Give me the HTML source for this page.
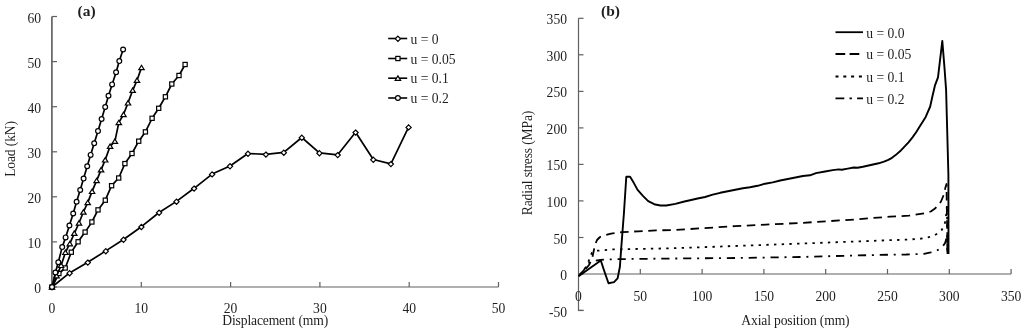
<!DOCTYPE html>
<html><head><meta charset="utf-8"><style>
html,body{margin:0;padding:0;background:#fff;width:1024px;height:331px;overflow:hidden}
svg{display:block;filter:grayscale(1)}
text{font-family:"Liberation Serif",serif}
</style></head><body>
<svg width="1024" height="331" viewBox="0 0 1024 331">
<rect width="1024" height="331" fill="#fff"/>
<g stroke="#606060" stroke-width="1.2" fill="none"><path d="M51.9,16.5V287.0" stroke-width="1.6" stroke="#5a5a5a"/><path d="M51,287.0H498.5"/><path d="M52.0,287.0h5"/><path d="M52.0,241.9h5"/><path d="M52.0,196.8h5"/><path d="M52.0,151.8h5"/><path d="M52.0,106.7h5"/><path d="M52.0,61.6h5"/><path d="M52.0,16.5h5"/><path d="M141.3,287.0v-5"/><path d="M230.6,287.0v-5"/><path d="M319.9,287.0v-5"/><path d="M409.2,287.0v-5"/><path d="M498.5,287.0v-5"/></g><g font-size="13.6" fill="#1e1e1e"><text x="41" y="293.2" text-anchor="end" font-size="13.6">0</text><text x="41" y="248.1" text-anchor="end" font-size="13.6">10</text><text x="41" y="203.0" text-anchor="end" font-size="13.6">20</text><text x="41" y="158.0" text-anchor="end" font-size="13.6">30</text><text x="41" y="112.9" text-anchor="end" font-size="13.6">40</text><text x="41" y="67.8" text-anchor="end" font-size="13.6">50</text><text x="41" y="22.7" text-anchor="end" font-size="13.6">60</text><text x="52.0" y="313" text-anchor="middle" font-size="13.6">0</text><text x="141.3" y="313" text-anchor="middle" font-size="13.6">10</text><text x="230.6" y="313" text-anchor="middle" font-size="13.6">20</text><text x="319.9" y="313" text-anchor="middle" font-size="13.6">30</text><text x="409.2" y="313" text-anchor="middle" font-size="13.6">40</text><text x="498.5" y="313" text-anchor="middle" font-size="13.6">50</text><text x="275.2" y="324.8" text-anchor="middle" letter-spacing="-0.15">Displacement (mm)</text><text transform="translate(14.5,149) rotate(-90)" text-anchor="middle" letter-spacing="-0.15">Load (kN)</text><text x="77.5" y="16" font-weight="bold" font-size="15.5">(a)</text></g><polyline points="52.0,287.0 69.6,272.9 87.8,262.3 105.8,250.9 123.5,239.5 141.4,226.7 159.1,212.5 176.5,201.4 194.1,188.3 212.1,174.1 230.0,166.0 248.0,153.5 265.9,154.3 283.8,152.4 301.8,137.5 319.4,152.9 337.7,154.8 355.6,132.3 373.3,159.5 390.9,163.8 408.6,127.1" fill="none" stroke="#000" stroke-width="1.7" stroke-linejoin="round"/><g fill="#fff" stroke="#000" stroke-width="1.2"><path d="M52.0,284.7L54.6,287.3L52.0,289.9L49.4,287.3Z"/><path d="M69.6,270.6L72.2,273.2L69.6,275.8L67.0,273.2Z"/><path d="M87.8,260.0L90.4,262.6L87.8,265.2L85.2,262.6Z"/><path d="M105.8,248.6L108.4,251.2L105.8,253.8L103.2,251.2Z"/><path d="M123.5,237.2L126.1,239.8L123.5,242.4L120.9,239.8Z"/><path d="M141.4,224.4L144.0,227.0L141.4,229.6L138.8,227.0Z"/><path d="M159.1,210.2L161.7,212.8L159.1,215.4L156.5,212.8Z"/><path d="M176.5,199.1L179.1,201.7L176.5,204.3L173.9,201.7Z"/><path d="M194.1,186.0L196.7,188.6L194.1,191.2L191.5,188.6Z"/><path d="M212.1,171.8L214.7,174.4L212.1,177.0L209.5,174.4Z"/><path d="M230.0,163.7L232.6,166.3L230.0,168.9L227.4,166.3Z"/><path d="M248.0,151.2L250.6,153.8L248.0,156.4L245.4,153.8Z"/><path d="M265.9,152.0L268.5,154.6L265.9,157.2L263.3,154.6Z"/><path d="M283.8,150.1L286.4,152.7L283.8,155.3L281.2,152.7Z"/><path d="M301.8,135.2L304.4,137.8L301.8,140.4L299.2,137.8Z"/><path d="M319.4,150.6L322.0,153.2L319.4,155.8L316.8,153.2Z"/><path d="M337.7,152.5L340.3,155.1L337.7,157.7L335.1,155.1Z"/><path d="M355.6,130.0L358.2,132.6L355.6,135.2L353.0,132.6Z"/><path d="M373.3,157.2L375.9,159.8L373.3,162.4L370.7,159.8Z"/><path d="M390.9,161.5L393.5,164.1L390.9,166.7L388.3,164.1Z"/><path d="M408.6,124.8L411.2,127.4L408.6,130.0L406.0,127.4Z"/></g><polyline points="52.0,287.0 58.9,273.5 65.2,268.0 71.3,252.2 78.1,241.8 85.1,232.1 91.9,222.0 98.0,209.9 105.3,200.2 111.6,185.7 118.7,178.0 124.9,163.6 132.0,153.5 138.7,141.2 145.4,131.9 152.1,118.3 158.7,108.3 165.4,96.8 171.8,84.0 179.0,75.5 185.1,64.5" fill="none" stroke="#000" stroke-width="1.7" stroke-linejoin="round"/><g fill="#fff" stroke="#000" stroke-width="1.2"><rect x="49.9" y="284.9" width="4.2" height="4.2"/><rect x="56.8" y="271.4" width="4.2" height="4.2"/><rect x="63.1" y="265.9" width="4.2" height="4.2"/><rect x="69.2" y="250.1" width="4.2" height="4.2"/><rect x="76.0" y="239.7" width="4.2" height="4.2"/><rect x="83.0" y="230.0" width="4.2" height="4.2"/><rect x="89.8" y="219.9" width="4.2" height="4.2"/><rect x="95.9" y="207.8" width="4.2" height="4.2"/><rect x="103.2" y="198.1" width="4.2" height="4.2"/><rect x="109.5" y="183.6" width="4.2" height="4.2"/><rect x="116.6" y="175.9" width="4.2" height="4.2"/><rect x="122.8" y="161.5" width="4.2" height="4.2"/><rect x="129.9" y="151.4" width="4.2" height="4.2"/><rect x="136.6" y="139.1" width="4.2" height="4.2"/><rect x="143.3" y="129.8" width="4.2" height="4.2"/><rect x="150.0" y="116.2" width="4.2" height="4.2"/><rect x="156.6" y="106.2" width="4.2" height="4.2"/><rect x="163.3" y="94.7" width="4.2" height="4.2"/><rect x="169.7" y="81.9" width="4.2" height="4.2"/><rect x="176.9" y="73.4" width="4.2" height="4.2"/><rect x="183.0" y="62.4" width="4.2" height="4.2"/></g><polyline points="52.0,287.0 56.6,275.8 61.1,265.4 65.4,252.4 69.8,243.7 74.3,233.3 79.0,223.0 83.4,212.0 87.7,202.6 92.1,191.4 96.6,180.6 101.1,169.8 105.2,159.9 110.1,146.3 114.9,141.3 118.8,122.6 123.5,114.5 128.0,102.9 132.7,90.3 137.0,80.3 141.5,67.6" fill="none" stroke="#000" stroke-width="1.7" stroke-linejoin="round"/><g fill="#fff" stroke="#000" stroke-width="1.2"><path d="M52.0,284.7L54.7,289.1L49.3,289.1Z"/><path d="M56.6,273.5L59.3,277.9L53.9,277.9Z"/><path d="M61.1,263.1L63.8,267.5L58.4,267.5Z"/><path d="M65.4,250.1L68.1,254.5L62.7,254.5Z"/><path d="M69.8,241.4L72.5,245.8L67.1,245.8Z"/><path d="M74.3,231.0L77.0,235.4L71.6,235.4Z"/><path d="M79.0,220.7L81.7,225.1L76.3,225.1Z"/><path d="M83.4,209.7L86.1,214.1L80.7,214.1Z"/><path d="M87.7,200.3L90.4,204.7L85.0,204.7Z"/><path d="M92.1,189.1L94.8,193.5L89.4,193.5Z"/><path d="M96.6,178.3L99.3,182.7L93.9,182.7Z"/><path d="M101.1,167.5L103.8,171.9L98.4,171.9Z"/><path d="M105.2,157.6L107.9,162.0L102.5,162.0Z"/><path d="M110.1,144.0L112.8,148.4L107.4,148.4Z"/><path d="M114.9,139.0L117.6,143.4L112.2,143.4Z"/><path d="M118.8,120.3L121.5,124.7L116.1,124.7Z"/><path d="M123.5,112.2L126.2,116.6L120.8,116.6Z"/><path d="M128.0,100.6L130.7,105.0L125.3,105.0Z"/><path d="M132.7,88.0L135.4,92.4L130.0,92.4Z"/><path d="M137.0,78.0L139.7,82.4L134.3,82.4Z"/><path d="M141.5,65.3L144.2,69.7L138.8,69.7Z"/></g><polyline points="52.0,287.0 55.4,272.5 58.3,262.2 62.2,247.1 65.6,237.4 69.4,225.5 73.2,213.5 76.6,201.8 80.2,190.0 83.6,178.6 87.2,166.2 90.6,154.9 94.2,143.3 98.0,131.1 101.6,119.0 105.2,107.0 108.5,95.8 112.1,84.4 116.1,72.3 119.3,61.1 123.1,49.5" fill="none" stroke="#000" stroke-width="1.7" stroke-linejoin="round"/><g fill="#fff" stroke="#000" stroke-width="1.2"><circle cx="52.0" cy="287.0" r="2.4"/><circle cx="55.4" cy="272.5" r="2.4"/><circle cx="58.3" cy="262.2" r="2.4"/><circle cx="62.2" cy="247.1" r="2.4"/><circle cx="65.6" cy="237.4" r="2.4"/><circle cx="69.4" cy="225.5" r="2.4"/><circle cx="73.2" cy="213.5" r="2.4"/><circle cx="76.6" cy="201.8" r="2.4"/><circle cx="80.2" cy="190.0" r="2.4"/><circle cx="83.6" cy="178.6" r="2.4"/><circle cx="87.2" cy="166.2" r="2.4"/><circle cx="90.6" cy="154.9" r="2.4"/><circle cx="94.2" cy="143.3" r="2.4"/><circle cx="98.0" cy="131.1" r="2.4"/><circle cx="101.6" cy="119.0" r="2.4"/><circle cx="105.2" cy="107.0" r="2.4"/><circle cx="108.5" cy="95.8" r="2.4"/><circle cx="112.1" cy="84.4" r="2.4"/><circle cx="116.1" cy="72.3" r="2.4"/><circle cx="119.3" cy="61.1" r="2.4"/><circle cx="123.1" cy="49.5" r="2.4"/></g><path d="M388.2,38.5H407.2" stroke="#000" stroke-width="1.6"/><g fill="#fff" stroke="#000" stroke-width="1.2"><path d="M397.9,36.2L400.5,38.8L397.9,41.4L395.3,38.8Z"/></g><text x="410.5" y="43.5" font-size="13.6" fill="#1e1e1e">u = 0</text><path d="M388.2,58.5H407.2" stroke="#000" stroke-width="1.6"/><g fill="#fff" stroke="#000" stroke-width="1.2"><rect x="395.8" y="56.4" width="4.2" height="4.2"/></g><text x="410.5" y="63.5" font-size="13.6" fill="#1e1e1e">u = 0.05</text><path d="M388.2,78.2H407.2" stroke="#000" stroke-width="1.6"/><g fill="#fff" stroke="#000" stroke-width="1.2"><path d="M397.9,75.9L400.6,80.3L395.2,80.3Z"/></g><text x="410.5" y="83.2" font-size="13.6" fill="#1e1e1e">u = 0.1</text><path d="M388.2,98.0H407.2" stroke="#000" stroke-width="1.6"/><g fill="#fff" stroke="#000" stroke-width="1.2"><circle cx="397.9" cy="98.0" r="2.4"/></g><text x="410.5" y="103.0" font-size="13.6" fill="#1e1e1e">u = 0.2</text><g stroke="#606060" stroke-width="1.2" fill="none"><path d="M578.5,18.2V310.4h5"/><path d="M578.5,274H1011.1"/><path d="M578.5,310.5h5"/><path d="M578.5,274.0h5"/><path d="M578.5,237.5h5"/><path d="M578.5,200.9h5"/><path d="M578.5,164.4h5"/><path d="M578.5,127.9h5"/><path d="M578.5,91.4h5"/><path d="M578.5,54.8h5"/><path d="M578.5,18.3h5"/><path d="M640.3,274v-5"/><path d="M702.1,274v-5"/><path d="M763.9,274v-5"/><path d="M825.7,274v-5"/><path d="M887.5,274v-5"/><path d="M949.3,274v-5"/><path d="M1011.1,274v-5"/></g><g font-size="13.6" fill="#1e1e1e"><text x="567" y="316.5" text-anchor="end" font-size="13.6">-50</text><text x="567" y="280.0" text-anchor="end" font-size="13.6">0</text><text x="567" y="243.5" text-anchor="end" font-size="13.6">50</text><text x="567" y="206.9" text-anchor="end" font-size="13.6">100</text><text x="567" y="170.4" text-anchor="end" font-size="13.6">150</text><text x="567" y="133.9" text-anchor="end" font-size="13.6">200</text><text x="567" y="97.4" text-anchor="end" font-size="13.6">250</text><text x="567" y="60.8" text-anchor="end" font-size="13.6">300</text><text x="567" y="24.3" text-anchor="end" font-size="13.6">350</text><text x="578.5" y="300.5" text-anchor="middle" font-size="13.6">0</text><text x="640.3" y="300.5" text-anchor="middle" font-size="13.6">50</text><text x="702.1" y="300.5" text-anchor="middle" font-size="13.6">100</text><text x="763.9" y="300.5" text-anchor="middle" font-size="13.6">150</text><text x="825.7" y="300.5" text-anchor="middle" font-size="13.6">200</text><text x="887.5" y="300.5" text-anchor="middle" font-size="13.6">250</text><text x="949.3" y="300.5" text-anchor="middle" font-size="13.6">300</text><text x="1011.1" y="300.5" text-anchor="middle" font-size="13.6">350</text><text x="795.4" y="324.8" text-anchor="middle" letter-spacing="-0.15">Axial position (mm)</text><text transform="translate(532,163) rotate(-90)" text-anchor="middle" letter-spacing="-0.15">Radial stress (MPa)</text><text x="601" y="16" font-weight="bold" font-size="15.5">(b)</text></g><polyline points="578.5,276.0 584.0,271.0 589.0,265.0 592.0,259.0 593.5,252.0 595.0,245.0 597.0,240.0 600.0,237.0 604.0,235.5 611.0,233.7 622.0,232.2 638.0,231.3 656.0,230.4 675.0,230.0 735.0,226.1 800.0,223.0 855.0,219.5 878.0,217.6 890.0,216.7 909.0,215.6 924.0,213.3 930.8,211.5 935.0,208.5 938.5,205.0 941.0,201.5 943.7,195.0 945.3,188.0 946.5,184.0 947.5,254.0" fill="none" stroke="#000" stroke-width="1.8" stroke-linejoin="round" stroke-dasharray="8.5 5.6" stroke-dashoffset="3.9"/><polyline points="578.5,276.0 584.0,271.0 588.0,263.0 590.0,257.0 592.0,252.5 595.0,250.8 605.0,250.2 611.0,249.5 675.0,248.2 735.0,246.0 800.0,243.6 855.0,241.5 890.0,240.2 903.6,239.8 919.9,238.8 928.1,237.4 934.9,235.1 938.5,233.0 941.7,230.0 944.4,225.2 945.5,220.0 946.5,212.0 947.0,205.0 947.5,254.0" fill="none" stroke="#000" stroke-width="1.8" stroke-linejoin="round" stroke-dasharray="2.4 5.3" stroke-dashoffset="5.4"/><polyline points="578.5,276.0 584.0,270.0 587.7,263.5 592.0,261.2 600.4,259.8 620.0,259.1 675.0,258.5 735.0,258.0 800.0,257.0 855.0,255.5 890.0,254.7 906.3,254.5 924.0,253.8 930.8,252.4 936.9,250.6 942.4,247.0 945.1,242.9 946.5,238.0 947.0,234.0 947.5,254.0" fill="none" stroke="#000" stroke-width="1.8" stroke-linejoin="round" stroke-dasharray="8.2 5.8 2.0 5.85" stroke-dashoffset="19.35"/><polyline points="578.5,276.2 600.8,260.5 604.0,270.3 608.5,283.3 614.0,282.1 617.6,278.4 619.9,266.7 621.2,248.6 623.0,225.0 623.8,215.0 626.3,176.8 630.1,176.8 633.9,183.1 637.6,189.9 642.9,195.9 648.2,201.2 654.2,204.2 660.3,205.5 666.3,205.5 675.4,203.9 684.4,201.5 690.0,200.3 697.6,198.5 705.1,197.0 712.7,194.7 720.2,192.8 727.8,191.3 735.3,189.8 742.9,188.2 750.0,187.3 757.6,185.8 765.1,183.7 772.7,182.4 780.2,180.5 787.8,179.0 795.4,177.5 802.9,176.0 810.0,175.3 816.0,173.1 825.1,171.5 832.7,170.1 838.7,169.4 841.7,169.7 847.8,168.6 853.8,167.5 857.6,167.7 862.9,166.7 869.7,165.2 878.6,163.3 884.0,161.7 888.3,159.9 892.0,157.8 895.6,155.1 900.0,151.3 904.0,147.1 908.5,142.3 912.5,137.4 916.3,132.0 919.7,126.6 925.7,116.9 930.2,106.5 932.5,96.0 934.9,85.7 938.0,77.3 942.3,40.9 944.4,66.7 946.1,89.9 948.4,175.0 948.5,254.0" fill="none" stroke="#000" stroke-width="1.9" stroke-linejoin="round"/><path d="M835.5,32.2H863" stroke="#000" stroke-width="1.8"/><text x="866.2" y="37.5" font-size="13.6" fill="#1e1e1e">u = 0.0</text><path d="M835.5,54H863" stroke="#000" stroke-width="1.8" stroke-dasharray="9.7 4.4"/><text x="866.2" y="59.3" font-size="13.6" fill="#1e1e1e">u = 0.05</text><path d="M835.5,76.5H863" stroke="#000" stroke-width="1.8" stroke-dasharray="3 4.8"/><text x="866.2" y="81.8" font-size="13.6" fill="#1e1e1e">u = 0.1</text><path d="M835.5,98.3H863" stroke="#000" stroke-width="1.8" stroke-dasharray="8.8 5.2 2.4 5.2"/><text x="866.2" y="103.6" font-size="13.6" fill="#1e1e1e">u = 0.2</text>
</svg>
</body></html>
